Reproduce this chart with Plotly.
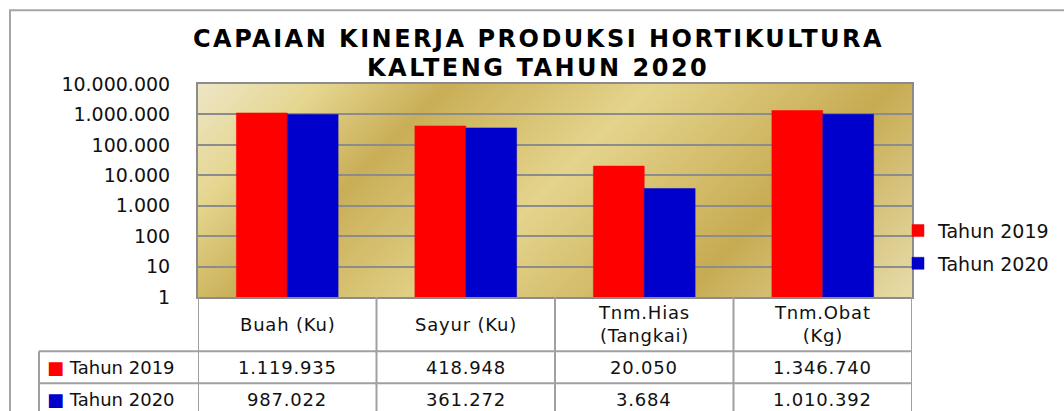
import base64
import plotly.graph_objects as go

# ---------------- data ----------------
categories = ["Buah (Ku)", "Sayur (Ku)", "Tnm.Hias<br>(Tangkai)", "Tnm.Obat<br>(Kg)"]
series_names = ["Tahun 2019", "Tahun 2020"]
values_2019 = [1119935, 418948, 20050, 1346740]
values_2020 = [987022, 361272, 3684, 1010392]
series_colors = ["#ff0000", "#0000cc"]
tick_values = [1, 10, 100, 1000, 10000, 100000, 1000000, 10000000]
tick_labels = ["1", "10", "100", "1.000", "10.000", "100.000", "1.000.000", "10.000.000"]
title_lines = ["CAPAIAN KINERJA PRODUKSI HORTIKULTURA", "KALTENG TAHUN 2020"]

# ---------------- layout geometry (pixels) ----------------
W, H = 1064, 411
PL, PR, PT, PB = 198, 912, 84, 297.5
PW, PH = PR - PL, PB - PT


def px(x):
    return (x - PL) / PW


def py(y):
    return (PB - y) / PH


FONT = "DejaVu Sans"
GRID = "#8c8c8c"
TLINE = "#a0a0a0"

# gold gradient background as svg
svg = f'''<svg xmlns="http://www.w3.org/2000/svg" width="{PW}" height="{PH}" viewBox="0 0 {PW} {PH}" preserveAspectRatio="none">
<defs><linearGradient id="g" gradientUnits="userSpaceOnUse" x1="0" y1="0" x2="{(PW+PH)/2}" y2="{(PW+PH)/2}">
<stop offset="0" stop-color="#ede6c6"/>
<stop offset="0.13" stop-color="#e5d690"/>
<stop offset="0.27" stop-color="#c9ae56"/>
<stop offset="0.49" stop-color="#e4d48c"/>
<stop offset="0.75" stop-color="#c7ab52"/>
<stop offset="1" stop-color="#e7dcaa"/>
</linearGradient></defs>
<rect x="0" y="0" width="{PW}" height="{PH}" fill="url(#g)"/></svg>'''
svg_uri = "data:image/svg+xml;base64," + base64.b64encode(svg.encode()).decode()

fig = go.Figure()
for name, vals, col in zip(series_names, [values_2019, values_2020], series_colors):
    fig.add_trace(go.Bar(
        x=categories, y=vals, name=name, legendgroup=name,
        marker=dict(color=col, line=dict(color=col, width=0.5)),
    ))


def fmt(v):
    return f"{v:,}".replace(",", ".")


def spaced(t, s=0.8):
    return f"<span style='letter-spacing:{s}px'>{t}</span>"


annotations = []
shapes = []

# title (two lines)
for line, yc in zip(title_lines, [39, 68]):
    annotations.append(dict(x=px(538), xref="paper", y=py(yc), yref="paper",
                            text=spaced(line, 2.5),
                            showarrow=False, xanchor="center", yanchor="middle",
                            font=dict(family="DejaVu Sans", size=24, color="black", weight="bold")))

# table: header texts
for c in categories:
    annotations.append(dict(x=c, xref="x", y=py(325), yref="paper",
                            text="<br>".join(spaced(p) for p in c.split("<br>")),
                            showarrow=False, font=dict(family=FONT, size=18, color="#111"),
                            xanchor="center", yanchor="middle"))
row_centers = [368, 400]
for name, vals, col, yc in zip(series_names, [values_2019, values_2020], series_colors, row_centers):
    annotations.append(dict(x=px(45), xref="paper", y=py(yc), yref="paper",
                            text=f"<span style='color:{col}'>■</span> {name}",
                            showarrow=False, font=dict(family=FONT, size=18, color="#111"),
                            xanchor="left", yanchor="middle"))
    for c, v in zip(categories, vals):
        annotations.append(dict(x=c, xref="x", y=py(yc), yref="paper", text=spaced(fmt(v)),
                                showarrow=False, font=dict(family=FONT, size=18, color="#111"),
                                xanchor="center", yanchor="middle"))

# table lines
for yl in [352, 384, 416]:
    shapes.append(dict(type="line", xref="paper", yref="paper", x0=px(39), x1=1,
                       y0=py(yl), y1=py(yl), line=dict(color=TLINE, width=2)))
shapes.append(dict(type="line", xref="paper", yref="paper", x0=px(39), x1=px(39),
                   y0=py(352), y1=py(420), line=dict(color=TLINE, width=2)))
for i in range(len(categories) + 1):
    shapes.append(dict(type="line", xref="x", yref="paper", x0=i - 0.5, x1=i - 0.5,
                       y0=0, y1=py(420), line=dict(color=TLINE, width=2)))

# outer chart frame
shapes.append(dict(type="rect", xref="paper", yref="paper", x0=px(10), x1=px(1080),
                   y0=py(10), y1=py(430), line=dict(color="#a6a6a6", width=2),
                   fillcolor="rgba(0,0,0,0)"))

fig.update_layout(
    width=W, height=H,
    margin=dict(l=PL, r=W - PR, t=PT, b=H - PB, autoexpand=False),
    paper_bgcolor="white", plot_bgcolor="rgba(0,0,0,0)",
    barmode="group", bargap=0.43, bargroupgap=0,
    images=[dict(source=svg_uri, xref="paper", yref="paper", x=0, y=1, sizex=1, sizey=1,
                 sizing="stretch", layer="below", xanchor="left", yanchor="top")],
    xaxis=dict(showticklabels=False, showgrid=False, zeroline=False,
               showline=True, linecolor=GRID, linewidth=2, mirror=True,
               range=[-0.5, len(categories) - 0.5]),
    yaxis=dict(type="log", range=[0, 7], tickvals=tick_values, ticktext=tick_labels,
               showgrid=True, gridcolor=GRID, gridwidth=2,
               showline=True, linecolor=GRID, linewidth=2, mirror=True,
               ticks="", ticklabelstandoff=22,
               tickfont=dict(family=FONT, size=19, color="#111")),
    legend=dict(x=px(898), y=py(212), xanchor="left", yanchor="top",
                traceorder="grouped", tracegroupgap=5,
                font=dict(family=FONT, size=19, color="#111"),
                bgcolor="rgba(0,0,0,0)"),
    annotations=annotations, shapes=shapes,
)

fig.write_html("out.html", config={"displayModeBar": False},
               post_script="document.body.style.margin='0';")
